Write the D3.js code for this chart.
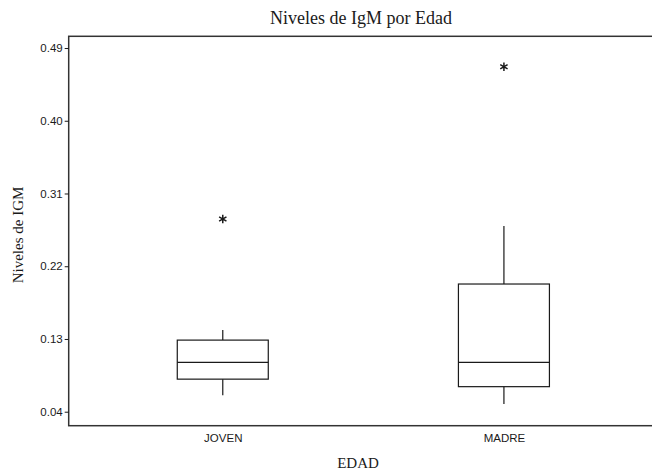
<!DOCTYPE html>
<html>
<head>
<meta charset="utf-8">
<script src="https://cdn.jsdelivr.net/npm/d3@7"></script>
<style>
  html, body { margin: 0; padding: 0; background: #fff; }
  svg { display: block; }
</style>
</head>
<body>
<svg id="chart" width="652" height="470"></svg>
<script>
// ---- Data ----
const categories  = ["JOVEN", "MADRE"];
const whiskerLow  = [0.0605, 0.0494];
const q1Values    = [0.0803, 0.0710];
const medians     = [0.1010, 0.1010];
const q3Values    = [0.1286, 0.1980];
const whiskerHigh = [0.1410, 0.2697];
const outliers    = [[0.2784], [0.4669]];
const yTicks      = [0.04, 0.13, 0.22, 0.31, 0.40, 0.49];

const title  = "Niveles de IgM por Edad";
const xTitle = "EDAD";
const yTitle = "Niveles de IGM";

// ---- Layout ----
const svg = d3.select("#chart");
const plot = { left: 68.7, top: 36.3, right: 658, bottom: 425.7 };

const y = d3.scaleLinear()
  .domain([0.0227, 0.5045])
  .range([plot.bottom, plot.top]);

const x = d3.scalePoint()
  .domain(categories)
  .range([plot.left, plot.right])
  .padding(0.548);

const boxW = 91;
const ink = "#1a1a1a";

// Frame
svg.append("rect")
  .attr("x", plot.left).attr("y", plot.top)
  .attr("width", plot.right - plot.left)
  .attr("height", plot.bottom - plot.top)
  .attr("fill", "none")
  .attr("stroke", "#333")
  .attr("stroke-width", 1.5);

// Y axis
const yAxis = d3.axisLeft(y)
  .tickValues(yTicks)
  .tickFormat(d3.format(".2f"))
  .tickSize(4)
  .tickPadding(2);

const gy = svg.append("g")
  .attr("transform", `translate(${plot.left},0)`)
  .call(yAxis);
gy.select(".domain").remove();
gy.selectAll(".tick line").attr("stroke", ink);
gy.selectAll(".tick text")
  .attr("fill", ink)
  .style("font-family", "Liberation Sans, Arial, sans-serif")
  .style("font-size", "11.5px");

// X axis (labels only)
const xAxis = d3.axisBottom(x).tickSize(0).tickPadding(8);
const gx = svg.append("g")
  .attr("transform", `translate(0,${plot.bottom})`)
  .call(xAxis);
gx.select(".domain").remove();
gx.selectAll(".tick text")
  .attr("fill", ink)
  .style("font-family", "Liberation Sans, Arial, sans-serif")
  .style("font-size", "11.5px");

// Boxes
const rows = categories.map((c, i) => ({
  c, lo: whiskerLow[i], q1: q1Values[i], med: medians[i],
  q3: q3Values[i], hi: whiskerHigh[i], out: outliers[i]
}));

const g = svg.append("g")
  .attr("stroke", ink)
  .attr("stroke-width", 1.2)
  .attr("fill", "none");

rows.forEach(r => {
  const cx = x(r.c);
  // whiskers
  g.append("line")
    .attr("x1", cx).attr("x2", cx)
    .attr("y1", y(r.q3)).attr("y2", y(r.hi));
  g.append("line")
    .attr("x1", cx).attr("x2", cx)
    .attr("y1", y(r.q1)).attr("y2", y(r.lo));
  // box
  g.append("rect")
    .attr("x", cx - boxW / 2)
    .attr("y", y(r.q3))
    .attr("width", boxW)
    .attr("height", y(r.q1) - y(r.q3));
  // median
  g.append("line")
    .attr("x1", cx - boxW / 2).attr("x2", cx + boxW / 2)
    .attr("y1", y(r.med)).attr("y2", y(r.med));
  // outliers
  r.out.forEach(v => {
    g.append("path")
      .attr("d", d3.symbol(d3.symbolAsterisk, 50)())
      .attr("transform", `translate(${cx},${y(v)})`)
      .attr("stroke-width", 1.5);
  });
});

// Titles
svg.append("text")
  .attr("x", 361).attr("y", 24)
  .attr("text-anchor", "middle")
  .attr("fill", ink)
  .style("font-family", "Liberation Serif, 'Times New Roman', serif")
  .style("font-size", "18px")
  .text(title);

svg.append("text")
  .attr("x", 358).attr("y", 468)
  .attr("text-anchor", "middle")
  .attr("fill", ink)
  .style("font-family", "Liberation Serif, 'Times New Roman', serif")
  .style("font-size", "15px")
  .text(xTitle);

svg.append("text")
  .attr("transform", "translate(23,235) rotate(-90)")
  .attr("text-anchor", "middle")
  .attr("fill", ink)
  .style("font-family", "Liberation Serif, 'Times New Roman', serif")
  .style("font-size", "15px")
  .text(yTitle);
</script>
</body>
</html>
